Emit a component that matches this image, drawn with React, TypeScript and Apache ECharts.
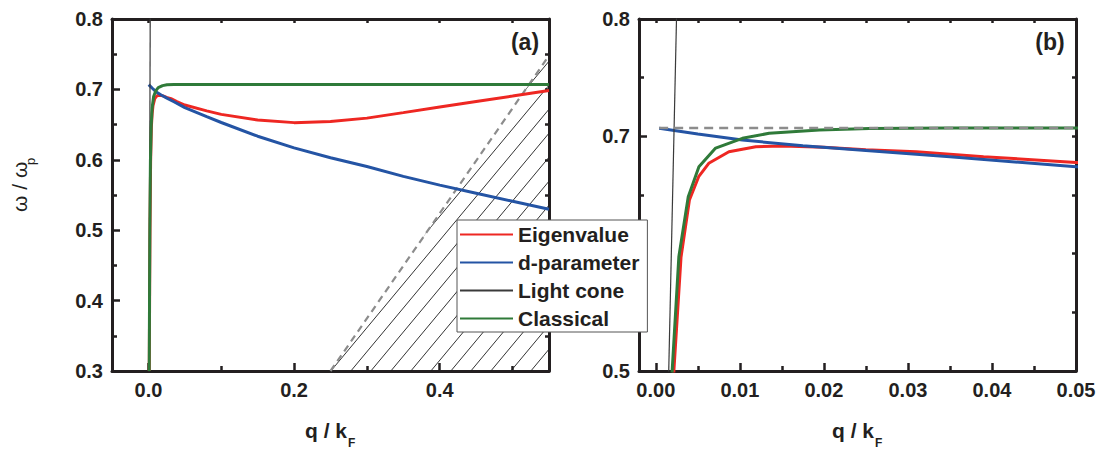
import React, { useEffect, useRef } from 'react';
import * as echarts from 'echarts';

// ---------- data (q / kF , ω / ωp) ----------
const EIGENVALUE: number[][] = [
  [0.0012, 0.3], [0.0017, 0.42], [0.00215, 0.5], [0.003, 0.597], [0.004, 0.6457],
  [0.0051, 0.6656], [0.0063, 0.677], [0.0087, 0.6869], [0.0119, 0.6911], [0.0151, 0.6917],
  [0.02, 0.6908], [0.025, 0.6886], [0.031, 0.6869], [0.039, 0.6826], [0.05, 0.6778],
  [0.08, 0.6695], [0.1, 0.6645], [0.15, 0.6565], [0.2, 0.6528], [0.25, 0.6545],
  [0.3, 0.6592], [0.35, 0.667], [0.4, 0.675], [0.45, 0.6828], [0.5, 0.6905], [0.55, 0.6985],
];
const D_PARAMETER: number[][] = [
  [0.0004, 0.7068], [0.005, 0.702], [0.0103, 0.6968], [0.0175, 0.692], [0.0254, 0.6877],
  [0.035, 0.6825], [0.05, 0.6741], [0.08, 0.6612], [0.1, 0.653], [0.15, 0.6335],
  [0.2, 0.617], [0.25, 0.603], [0.3, 0.5905], [0.35, 0.5765], [0.4, 0.564],
  [0.45, 0.5525], [0.5, 0.541], [0.55, 0.5297],
];
const CLASSICAL: number[][] = [
  [0.0011, 0.3], [0.0016, 0.42], [0.00195, 0.5008], [0.00274, 0.5974], [0.00386, 0.6485],
  [0.00513, 0.674], [0.00712, 0.69], [0.0103, 0.6983], [0.01348, 0.7026], [0.01945, 0.7054],
  [0.0254, 0.7066], [0.035, 0.707], [0.05, 0.7071], [0.55, 0.7071],
];
const LIGHT_CONE: number[][] = [[0, 0], [0.0026, 0.845]];
const CONTINUUM_EDGE: number[][] = [[0.25, 0.3], [0.55, 0.748]];
const CLASSICAL_LIMIT: number[][] = [[0.0004, 0.7071], [0.05, 0.7071]];

// ---------- ticks ----------
const A_X_MAJOR = [0, 0.2, 0.4];
const A_X_MINOR = [0.1, 0.3, 0.5];
const A_Y_MAJOR = [0.3, 0.4, 0.5, 0.6, 0.7, 0.8];
const A_Y_MINOR = [0.35, 0.45, 0.55, 0.65, 0.75];
const B_X_MAJOR = [0, 0.01, 0.02, 0.03, 0.04, 0.05];
const B_X_MINOR = [0.005, 0.015, 0.025, 0.035, 0.045];
const B_Y_MAJOR = [0.5, 0.6, 0.7, 0.8];
const B_Y_LABELS = [0.5, 0.7, 0.8];
const B_Y_MINOR = [0.55, 0.65, 0.75];

const LEGEND_NAMES = ['Eigenvalue', 'd-parameter', 'Light cone', 'Classical'];

const FONT = "'Liberation Sans', Arial, Helvetica, sans-serif";
const INK = '#231f20';
const RED = '#ee2722';
const BLUE = '#2454a4';
const GREEN = '#2f7a39';
const CONE = '#3a3a3a';
const GRAY = '#8c8c8c';

const hatchSvg =
  '<svg xmlns="http://www.w3.org/2000/svg" width="20" height="24">' +
  '<g stroke="#1a1a1a" stroke-width="0.9" fill="none">' +
  '<line x1="-2" y1="26.4" x2="22" y2="-2.4"/>' +
  '<line x1="-22" y1="26.4" x2="2" y2="-2.4"/>' +
  '<line x1="18" y1="26.4" x2="42" y2="-2.4"/>' +
  '</g></svg>';
const hatchUrl = 'data:image/svg+xml;charset=utf-8,' + encodeURIComponent(hatchSvg);

const lineStyle = { color: INK, width: 3 };
const tickStyle = { color: INK, width: 2.5 };

function xAxes(gridIndex: number, min: number, max: number, major: number[], minor: number[], digits: number) {
  return [
    {
      type: 'value', gridIndex, min, max, position: 'bottom',
      axisLine: { show: true, onZero: false, lineStyle },
      axisTick: { show: true, inside: true, length: 8, customValues: major, lineStyle: tickStyle },
      axisLabel: {
        show: true, customValues: major, margin: 9, color: INK, fontSize: 20, fontWeight: 'bold', fontFamily: FONT,
        formatter: (v: number) => v.toFixed(digits),
      },
      splitLine: { show: false },
    },
    {
      type: 'value', gridIndex, min, max, position: 'bottom',
      axisLine: { show: false, onZero: false },
      axisTick: { show: true, inside: true, length: 5, customValues: minor, lineStyle: tickStyle },
      axisLabel: { show: false },
      splitLine: { show: false },
    },
    {
      type: 'value', gridIndex, min, max, position: 'top',
      axisLine: { show: true, onZero: false, lineStyle },
      axisTick: { show: true, inside: true, length: 4, customValues: [...major, ...minor], lineStyle: tickStyle },
      axisLabel: { show: false },
      splitLine: { show: false },
    },
  ];
}

function yAxes(gridIndex: number, min: number, max: number, major: number[], labels: number[], minor: number[]) {
  return [
    {
      type: 'value', gridIndex, min, max, position: 'left',
      axisLine: { show: true, onZero: false, lineStyle },
      axisTick: { show: true, inside: true, length: 8, customValues: major, lineStyle: tickStyle },
      axisLabel: {
        show: true, customValues: labels, margin: 9, color: INK, fontSize: 20, fontWeight: 'bold', fontFamily: FONT,
        formatter: (v: number) => v.toFixed(1),
      },
      splitLine: { show: false },
    },
    {
      type: 'value', gridIndex, min, max, position: 'left',
      axisLine: { show: false, onZero: false },
      axisTick: { show: true, inside: true, length: 5, customValues: minor, lineStyle: tickStyle },
      axisLabel: { show: false },
      splitLine: { show: false },
    },
    {
      type: 'value', gridIndex, min, max, position: 'right',
      axisLine: { show: true, onZero: false, lineStyle },
      axisTick: { show: true, inside: true, length: 4, customValues: [...major, ...minor], lineStyle: tickStyle },
      axisLabel: { show: false },
      splitLine: { show: false },
    },
  ];
}

function curve(name: string, data: number[][], color: string, width: number, xi: number, yi: number, extra: any = {}) {
  return {
    type: 'line', name, data, xAxisIndex: xi, yAxisIndex: yi,
    symbol: 'none', showSymbol: false, smooth: false, clip: true, silent: true,
    lineStyle: { color, width },
    itemStyle: { color },
    ...extra,
  };
}

function textEl(x: number, y: number, text: string, size: number, weight: string, align = 'left') {
  return {
    type: 'text', x, y, silent: true,
    style: {
      text, fontSize: size, fontWeight: weight, fontFamily: FONT, fill: INK,
      align, textAlign: align, verticalAlign: 'middle', textVerticalAlign: 'middle',
    },
  };
}

function buildOption() {
  return {
    animation: false,
    backgroundColor: '#ffffff',
    textStyle: { fontFamily: FONT },
    grid: [
      { left: 112, top: 19, width: 437, height: 352, containLabel: false, outerBoundsMode: 'none' },
      { left: 639, top: 19, width: 437, height: 352, containLabel: false, outerBoundsMode: 'none' },
    ],
    xAxis: [
      ...xAxes(0, -0.05, 0.55, A_X_MAJOR, A_X_MINOR, 1),
      ...xAxes(1, -0.002, 0.05, B_X_MAJOR, B_X_MINOR, 2),
    ],
    yAxis: [
      ...yAxes(0, 0.3, 0.8, A_Y_MAJOR, A_Y_MAJOR, A_Y_MINOR),
      ...yAxes(1, 0.5, 0.8, B_Y_MAJOR, B_Y_LABELS, B_Y_MINOR),
    ],
    legend: {
      show: true,
      data: LEGEND_NAMES,
      orient: 'vertical',
      left: 457,
      top: 220,
      itemWidth: 53,
      itemHeight: 14,
      itemGap: 7,
      padding: [4, 8, 3, 2],
      backgroundColor: '#ffffff',
      borderColor: '#555555',
      borderWidth: 1,
      borderRadius: 0,
      z: 20,
      selectedMode: false,
      itemStyle: { opacity: 0 },
      textStyle: { fontSize: 21, fontWeight: 'bold', color: INK, fontFamily: FONT },
    },
    series: [
      // panel (a)
      curve('continuum', CONTINUUM_EDGE, GRAY, 2.2, 0, 0, {
        lineStyle: { color: GRAY, width: 2.2, type: [7, 5] },
        areaStyle: {
          origin: 'start',
          opacity: 1,
          color: { image: hatchUrl, repeat: 'repeat', imageWidth: 20, imageHeight: 24 },
        },
      }),
      curve('Eigenvalue', EIGENVALUE, RED, 3, 0, 0),
      curve('d-parameter', D_PARAMETER, BLUE, 3, 0, 0),
      curve('Light cone', LIGHT_CONE, CONE, 1.2, 0, 0),
      curve('Classical', CLASSICAL, GREEN, 3, 0, 0),
      // panel (b)
      curve('Eigenvalue', EIGENVALUE, RED, 3, 3, 3),
      curve('d-parameter', D_PARAMETER, BLUE, 3, 3, 3),
      curve('Light cone', LIGHT_CONE, CONE, 1.2, 3, 3),
      curve('Classical', CLASSICAL, GREEN, 3, 3, 3),
      curve('limit', CLASSICAL_LIMIT, GRAY, 2.5, 3, 3, {
        lineStyle: { color: GRAY, width: 2.5, type: [9, 6] },
      }),
    ],
    graphic: [
      textEl(525, 42, '(a)', 23, 'bold', 'center'),
      textEl(1050, 42, '(b)', 23, 'bold', 'center'),
      textEl(305, 430, 'q / k', 21, 'bold'),
      textEl(348, 443, 'F', 12, 'bold'),
      textEl(832, 430, 'q / k', 21, 'bold'),
      textEl(875, 443, 'F', 12, 'bold'),
      {
        type: 'group', x: 19, y: 212, rotation: Math.PI / 2, silent: true,
        children: [
          textEl(0, 0, 'ω / ω', 21, 'normal'),
          textEl(47, 11, 'p', 13, 'normal'),
        ],
      },
    ],
  };
}

export default function App() {
  const ref = useRef<HTMLDivElement>(null);
  useEffect(() => {
    document.body.style.margin = '0';
    const chart = echarts.init(ref.current as HTMLDivElement, null, { renderer: 'svg' });
    chart.setOption(buildOption() as any);
    return () => chart.dispose();
  }, []);
  return <div ref={ref} style={{ width: 1105, height: 451 }} />;
}
